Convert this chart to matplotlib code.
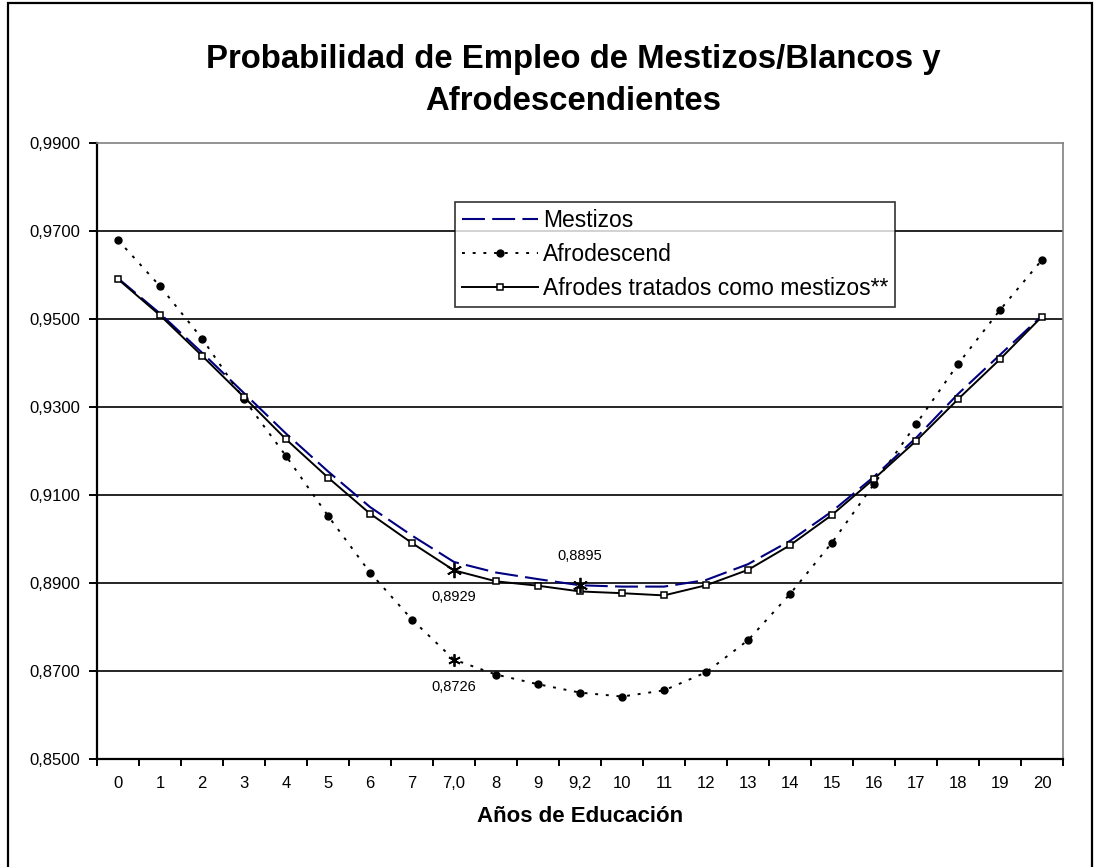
import matplotlib
matplotlib.use("Agg")
import matplotlib.pyplot as plt
from matplotlib.patches import Rectangle

plt.rcParams["font.family"] = ["Liberation Sans", "DejaVu Sans"]

# ---- datos ----
categorias = ["0", "1", "2", "3", "4", "5", "6", "7", "7,0", "8", "9", "9,2",
              "10", "11", "12", "13", "14", "15", "16", "17", "18", "19", "20"]

mestizos = [0.9593, 0.9513, 0.9424, 0.9332, 0.9240, 0.9154, 0.9073, 0.9008,
            0.8948, 0.8924, 0.8909, 0.8895, 0.8892, 0.8892, 0.8907, 0.8943,
            0.8996, 0.9063, 0.9142, 0.9230, 0.9330, 0.9419, 0.9508]

afrodescend = [0.9680, 0.9575, 0.9456, 0.9318, 0.9189, 0.9053, 0.8924, 0.8817,
               0.8726, 0.8692, 0.8670, 0.8651, 0.8642, 0.8656, 0.8697, 0.8770,
               0.8875, 0.8992, 0.9125, 0.9261, 0.9398, 0.9521, 0.9635]

tratados = [0.9591, 0.9509, 0.9417, 0.9323, 0.9227, 0.9140, 0.9058, 0.8991,
            0.8929, 0.8904, 0.8894, 0.8881, 0.8877, 0.8872, 0.8895, 0.8930,
            0.8986, 0.9055, 0.9137, 0.9223, 0.9318, 0.9409, 0.9506]

# puntos destacados (años promedio de educación)
idx_afro = 8     # "7,0"
idx_mest = 11    # "9,2"

y_ticks = [0.85, 0.87, 0.89, 0.91, 0.93, 0.95, 0.97, 0.99]

x = list(range(len(categorias)))

fig = plt.figure(figsize=(10.96, 8.67), dpi=100)
ax = fig.add_axes([97 / 1096, 1 - 759 / 867, (1063 - 97) / 1096, (759 - 143.3) / 867])

# marco exterior
fig.patches.append(Rectangle((8 / 1096, -0.01), (1092 - 8) / 1096, 1 - 3 / 867 + 0.01,
                             transform=fig.transFigure, fill=False,
                             edgecolor="black", linewidth=1.6, zorder=10))

# rejilla horizontal
for yv in y_ticks[1:-1]:
    ax.axhline(yv, color="black", linewidth=1.2, zorder=1)

sin_afro = [i for i in x if i != idx_afro]

ax.plot(x, mestizos, color="#000080", linewidth=1.5, dashes=(11, 3.5),
        label="Mestizos", zorder=3)
ax.plot(x, afrodescend, color="black", linewidth=1.4, linestyle=(0, (1.5, 4)),
        marker="o", markersize=5, markevery=sin_afro,
        label="Afrodescend", zorder=3)
ax.plot(x, tratados, color="black", linewidth=1.4, marker="s", markersize=5,
        markerfacecolor="white", markeredgecolor="black", markeredgewidth=1.1,
        markevery=sin_afro, label="Afrodes tratados como mestizos**", zorder=4)

# asteriscos
star = (6, 2, 0)
ax.plot([idx_afro], [tratados[idx_afro]], linestyle="none", marker=star,
        markersize=11, color="black", markeredgewidth=1.3, zorder=5)
ax.plot([idx_afro], [afrodescend[idx_afro]], linestyle="none", marker=star,
        markersize=9, color="black", markeredgewidth=1.3, zorder=5)
ax.plot([idx_mest], [mestizos[idx_mest]], linestyle="none", marker=star,
        markersize=11, color="black", markeredgewidth=1.3, zorder=5)

def fmt(v):
    return f"{v:.4f}".replace(".", ",")

ax.annotate(fmt(tratados[idx_afro]), (idx_afro, tratados[idx_afro]),
            xytext=(0, -19), textcoords="offset points",
            ha="center", va="center", fontsize=10.5)
ax.annotate(fmt(afrodescend[idx_afro]), (idx_afro, afrodescend[idx_afro]),
            xytext=(0, -19.5), textcoords="offset points",
            ha="center", va="center", fontsize=10.5)
ax.annotate(fmt(mestizos[idx_mest]), (idx_mest, mestizos[idx_mest]),
            xytext=(0, 21), textcoords="offset points",
            ha="center", va="center", fontsize=10.5)

# ejes
ax.set_xlim(-0.5, len(categorias) - 0.5)
ax.set_ylim(0.85, 0.99)
ax.set_yticks(y_ticks)
ax.set_yticklabels([fmt(v) for v in y_ticks], fontsize=12)

ax.set_xticks([i - 0.5 for i in range(len(categorias) + 1)])
ax.set_xticklabels([])
ax.set_xticks(x, minor=True)
ax.set_xticklabels(categorias, minor=True, fontsize=12)
ax.tick_params(axis="x", which="minor", length=0, pad=12)
ax.tick_params(axis="x", which="major", length=5, width=1.4, direction="out")
ax.tick_params(axis="y", length=6, width=1.4, direction="out", pad=6)

for s in ["left", "bottom"]:
    ax.spines[s].set_linewidth(1.6)
    ax.spines[s].set_color("black")
for s in ["top", "right"]:
    ax.spines[s].set_linewidth(1.2)
    ax.spines[s].set_color("#808080")

ax.set_xlabel("Años de Educación", fontsize=16, fontweight="bold", labelpad=11)

fig.text(573 / 1096, 1 - 80.5 / 867,
         "Probabilidad de Empleo de Mestizos/Blancos y\nAfrodescendientes",
         ha="center", va="center", fontsize=23.7, fontweight="bold",
         linespacing=1.43)

leg = ax.legend(loc="upper left", bbox_to_anchor=(455 / 1096, 1 - 202 / 867),
                bbox_transform=fig.transFigure, fontsize=16.5, frameon=True,
                fancybox=False, edgecolor="black", handlelength=3.3,
                labelspacing=0.48, borderpad=0.3, handletextpad=0.25,
                borderaxespad=0)
leg.get_frame().set_linewidth(1.2)
leg.set_zorder(6)

fig.savefig("out.png", dpi=100, facecolor="white")
